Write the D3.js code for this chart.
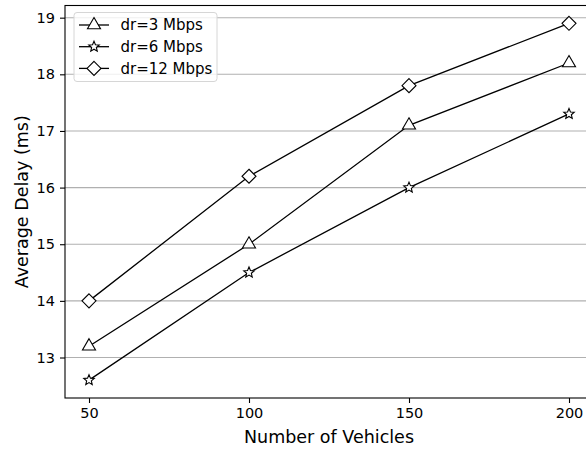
<!DOCTYPE html>
<html>
<head>
<meta charset="utf-8">
<script src="https://cdn.jsdelivr.net/npm/d3@7"></script>
<style>
  body { margin: 0; background: #fff; }
  svg { display: block; font-family: 'DejaVu Sans', sans-serif; }
</style>
</head>
<body>
<div id="chart"><svg width="586" height="449"></svg></div>
<script>
const vehicles = [50, 100, 150, 200];
const dr3 = [13.2, 15.0, 17.1, 18.2];
const dr6 = [12.6, 14.5, 16.0, 17.3];
const dr12 = [14.0, 16.2, 17.8, 18.9];
const seriesNames = ['dr=3 Mbps', 'dr=6 Mbps', 'dr=12 Mbps'];
const xTicks = [50, 100, 150, 200];
const yTicks = [13, 14, 15, 16, 17, 18, 19];

const SVG = d3.select('#chart svg');
const LEFT = 65;
const RIGHT = 593;
const TOP = 5.5;
const BOTTOM = 398;

const X_SCALE = d3.scaleLinear().domain([42.5, 207.5]).range([LEFT, RIGHT]);
const Y_SCALE = d3.scaleLinear().domain([12.285, 19.215]).range([BOTTOM, TOP]);

// grid
SVG.append('g')
  .selectAll('line')
  .data(yTicks)
  .join('line')
  .attr('x1', LEFT)
  .attr('x2', RIGHT)
  .attr('y1', (d) => Y_SCALE(d))
  .attr('y2', (d) => Y_SCALE(d))
  .style('stroke', '#b0b0b0')
  .style('stroke-width', 1.1);

// axes
const X_AXIS_G = SVG.append('g').attr('transform', `translate(0, ${BOTTOM})`);
d3.axisBottom(X_SCALE).tickValues(xTicks).tickSize(5).tickPadding(5)(X_AXIS_G);
const Y_AXIS_G = SVG.append('g').attr('transform', `translate(${LEFT}, 0)`);
d3.axisLeft(Y_SCALE).tickValues(yTicks).tickFormat(d3.format('d')).tickSize(5).tickPadding(5)(Y_AXIS_G);
[X_AXIS_G, Y_AXIS_G].forEach((g) => {
  g.select('.domain').remove();
  g.selectAll('text').style('font-size', '14.5px').style('fill', '#000').style('font-family', 'DejaVu Sans');
  g.selectAll('line').style('stroke', '#000').style('stroke-width', 1.1);
});

// spines
SVG.append('rect')
  .attr('x', LEFT)
  .attr('y', TOP)
  .attr('width', RIGHT - LEFT)
  .attr('height', BOTTOM - TOP)
  .style('fill', 'none')
  .style('stroke', '#000')
  .style('stroke-width', 1.1);

SVG.append('text')
  .text('Number of Vehicles')
  .attr('x', (LEFT + RIGHT) / 2)
  .attr('y', 443)
  .style('text-anchor', 'middle')
  .style('font-size', '17.5px');

SVG.append('text')
  .text('Average Delay (ms)')
  .attr('transform', `translate(28, ${(TOP + BOTTOM) / 2}) rotate(-90)`)
  .style('text-anchor', 'middle')
  .style('font-size', '17.5px');

// markers
const triangle = (s) => `M0,${-s}L${s * 0.87},${s * 0.5}L${-s * 0.87},${s * 0.5}Z`;
const diamond = (s) => `M0,${-s}L${s},0L0,${s}L${-s},0Z`;
const star = (s) => {
  let p = '';
  for (let i = 0; i < 10; i++) {
    const r = i % 2 === 0 ? s : s * 0.45;
    const a = (Math.PI / 5) * i - Math.PI / 2;
    p += (i === 0 ? 'M' : 'L') + (r * Math.cos(a)).toFixed(2) + ',' + (r * Math.sin(a)).toFixed(2);
  }
  return p + 'Z';
};
const markers = [triangle(7.5), star(5.5), diamond(7)];
const allSeries = [dr3, dr6, dr12];

const LINE = d3.line()
  .x((d, i) => X_SCALE(vehicles[i]))
  .y((d) => Y_SCALE(d));

allSeries.forEach((series, index) => {
  SVG.append('path')
    .attr('d', LINE(series))
    .style('fill', 'none')
    .style('stroke', '#000')
    .style('stroke-width', 1.3);
  SVG.append('g')
    .selectAll('path')
    .data(series)
    .join('path')
    .attr('transform', (d, i) => `translate(${X_SCALE(vehicles[i])}, ${Y_SCALE(d)})`)
    .attr('d', markers[index])
    .style('fill', '#fff')
    .style('stroke', '#000')
    .style('stroke-width', 1.1);
});

// legend
const LEGEND = SVG.append('g').attr('transform', 'translate(74, 12.5)');
LEGEND.append('rect')
  .attr('width', 143)
  .attr('height', 69)
  .attr('rx', 3)
  .style('fill', 'rgba(255,255,255,0.8)')
  .style('stroke', '#d6d6d6')
  .style('stroke-width', 1);
seriesNames.forEach((name, i) => {
  const y = 12.5 + i * 21.7;
  LEGEND.append('line')
    .attr('x1', 5)
    .attr('x2', 35)
    .attr('y1', y)
    .attr('y2', y)
    .style('stroke', '#000')
    .style('stroke-width', 1.3);
  LEGEND.append('path')
    .attr('transform', `translate(20, ${y})`)
    .attr('d', markers[i])
    .style('fill', '#fff')
    .style('stroke', '#000')
    .style('stroke-width', 1.1);
  LEGEND.append('text')
    .text(name)
    .attr('x', 46.5)
    .attr('y', y)
    .attr('dy', '0.36em')
    .style('font-size', '15px');
});
</script>
</body>
</html>
